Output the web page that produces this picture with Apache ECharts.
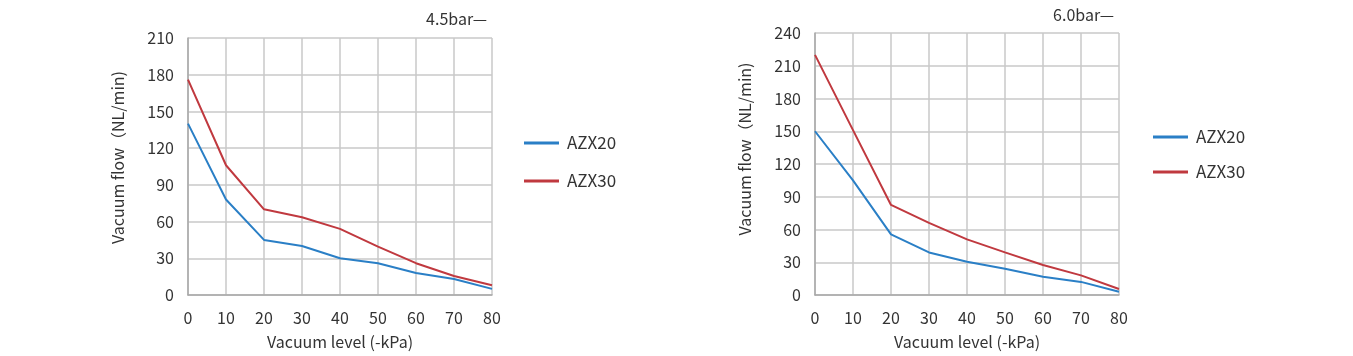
<!DOCTYPE html>
<html><head><meta charset="utf-8">
<script src="https://cdn.jsdelivr.net/npm/echarts@6/dist/echarts.min.js"></script>
<style>html,body{margin:0;padding:0;background:#fff}#c{width:1353px;height:356px}</style>
</head><body><div id="c"></div>
<script>
const vacuumLevels = [0, 10, 20, 30, 40, 50, 60, 70, 80];
const seriesNames = ['AZX20', 'AZX30'];
const titles = ['4.5bar—', '6.0bar—'];
const azx20_45 = [140, 78, 45, 40, 30, 26, 18, 13, 5];
const azx30_45 = [176, 106, 70, 63.5, 54, 39.5, 26, 15.5, 8];
const azx20_60 = [150, 105, 55.5, 39, 30.5, 24, 16.8, 12, 3];
const azx30_60 = [220, 151, 82.5, 66, 51, 39, 27.5, 18, 5.5];
const yMax = [210, 240];
const xName = 'Vacuum level (-kPa)';
const yName = 'Vacuum flow（NL/min)';

const FONT = '"Noto Sans CJK SC", "Noto Sans", sans-serif';
const BLUE = '#2a7fc6', RED = '#c0393f', TXT = '#333';
const pair = (xs, ys) => xs.map((x, i) => [x, ys[i]]);

const grids = [
  {left: 188, width: 304, top: 38, bottom: 61},
  {left: 815, width: 304, top: 33, bottom: 61}
];
const yNamePad = [[0, 0, 0, 18], [0, 0, 0, 30]];
function xAxis(i) {
  return {gridIndex: i, type: 'value', min: 0, max: 80, interval: 10,
    name: xName, nameLocation: 'middle', nameGap: 39,
    nameTextStyle: {fontFamily: FONT, fontSize: 16, color: TXT},
    axisLine: {show: true, lineStyle: {color: '#a8a8a8', width: 1.5}},
    axisTick: {show: false},
    axisLabel: {fontFamily: FONT, fontSize: 16, color: TXT, margin: 15},
    splitLine: {show: true, lineStyle: {color: '#c8c8c8', width: 1.5}}};
}
function yAxis(i) {
  return {gridIndex: i, type: 'value', min: 0, max: yMax[i], interval: 30,
    name: yName, nameLocation: 'middle', nameGap: 62,
    nameTextStyle: {fontFamily: FONT, fontSize: 16, color: TXT, padding: yNamePad[i]},
    axisLine: {show: true, lineStyle: {color: '#a8a8a8', width: 1.5}},
    axisTick: {show: false},
    axisLabel: {fontFamily: FONT, fontSize: 16, color: TXT, margin: 14},
    splitLine: {show: true, lineStyle: {color: '#c8c8c8', width: 1.5}}};
}
function line(name, data, gi, color) {
  return {name, type: 'line', xAxisIndex: gi, yAxisIndex: gi, data: pair(vacuumLevels, data),
    showSymbol: false, symbol: 'none', lineStyle: {color, width: 2}, itemStyle: {color}};
}
const legendBase = {orient: 'vertical', icon: 'rect', itemWidth: 35, itemHeight: 3,
  data: seriesNames, selectedMode: false,
  textStyle: {fontFamily: FONT, fontSize: 17, color: TXT, padding: [0, 0, 0, 3], lineHeight: 18}};

const chart = echarts.init(document.getElementById('c'));
chart.setOption({
  animation: false,
  color: [BLUE, RED],
  title: [
    {text: titles[0], right: 1353 - 492, top: 6, textStyle: {fontFamily: FONT, fontSize: 16, fontWeight: 'normal', color: TXT}},
    {text: titles[1], right: 1353 - 1119, top: 2, textStyle: {fontFamily: FONT, fontSize: 16, fontWeight: 'normal', color: TXT}}
  ],
  legend: [
    Object.assign({}, legendBase, {left: 519, top: 129, itemGap: 20}),
    Object.assign({}, legendBase, {left: 1148, top: 123, itemGap: 17})
  ],
  grid: grids,
  xAxis: [xAxis(0), xAxis(1)],
  yAxis: [yAxis(0), yAxis(1)],
  series: [
    line(seriesNames[0], azx20_45, 0, BLUE),
    line(seriesNames[1], azx30_45, 0, RED),
    line(seriesNames[0], azx20_60, 1, BLUE),
    line(seriesNames[1], azx30_60, 1, RED)
  ]
});
</script></body></html>
